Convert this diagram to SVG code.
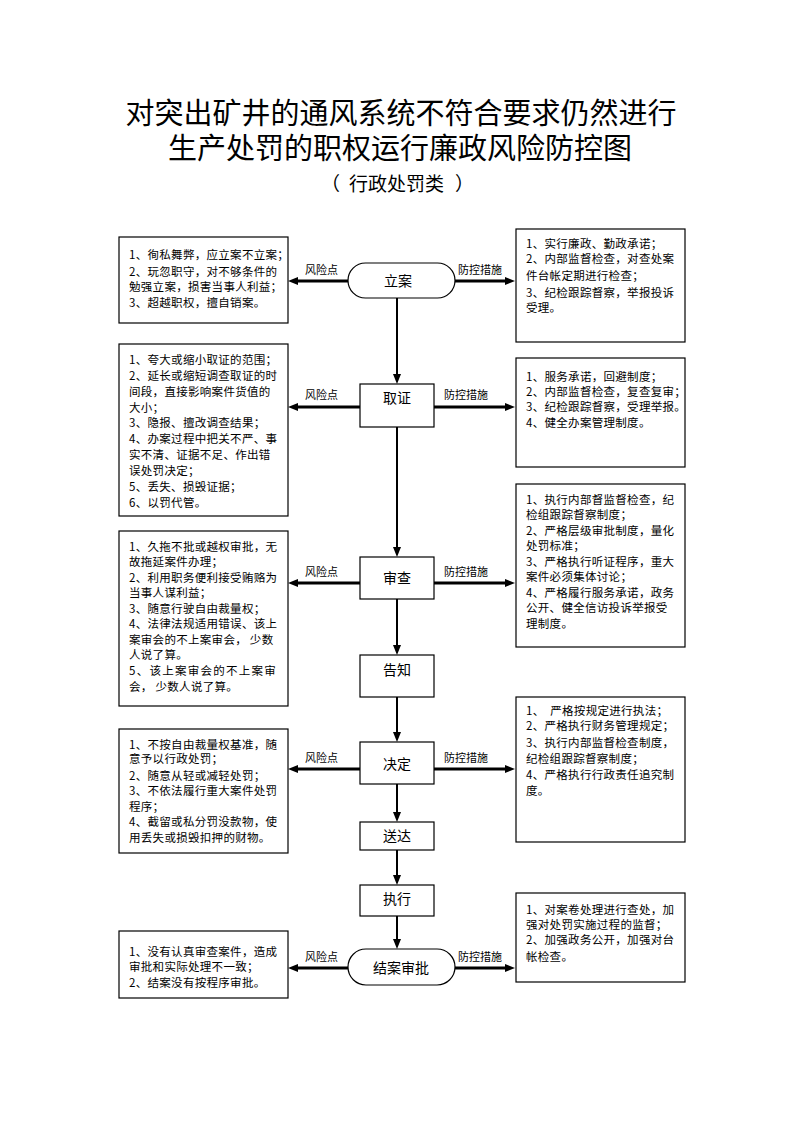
<svg xmlns="http://www.w3.org/2000/svg" width="794" height="1123" viewBox="0 0 794 1123">
<style>
text{font-family:"Noto Sans CJK SC","Noto Sans",sans-serif;fill:#000}
.title{font-size:29px;text-anchor:middle}
.sub{font-size:19px}
.box{fill:#fff;stroke:#000;stroke-width:1.2}
.node{fill:#fff;stroke:#000;stroke-width:1.2}
.nl{font-size:14px;text-anchor:middle}
.lab{font-size:11px}
.t{font-size:11.5px;letter-spacing:0.3px}
.h{stroke:#000;stroke-width:3;fill:none}
.v{stroke:#000;stroke-width:2;fill:none}
</style>
<defs>
<marker id="ah" viewBox="0 0 10 8" refX="0" refY="4" markerWidth="10" markerHeight="8" markerUnits="userSpaceOnUse" orient="auto"><path d="M0,0 L10,4 L0,8 z" fill="#000"/></marker>
</defs>
<rect width="794" height="1123" fill="#fff"/>
<g id="title">
<text class="title" x="401" y="124">对突出矿井的通风系统不符合要求仍然进行</text>
<text class="title" x="400" y="159">生产处罚的职权运行廉政风险防控图</text>
<text class="sub" y="191"><tspan x="321">（</tspan><tspan x="349">行政处罚类</tspan><tspan x="455">）</tspan></text>
</g>
<g id="connectors">
<line class="v" x1="397" y1="298" x2="397" y2="374" marker-end="url(#ah)"/>
<line class="v" x1="397" y1="427" x2="397" y2="547" marker-end="url(#ah)"/>
<line class="v" x1="397" y1="599" x2="397" y2="645" marker-end="url(#ah)"/>
<line class="v" x1="397" y1="697" x2="397" y2="732" marker-end="url(#ah)"/>
<line class="v" x1="397" y1="784" x2="397" y2="812" marker-end="url(#ah)"/>
<line class="v" x1="397" y1="850" x2="397" y2="875" marker-end="url(#ah)"/>
<line class="v" x1="397" y1="916" x2="397" y2="939" marker-end="url(#ah)"/>
<line class="h" x1="348" y1="281" x2="298" y2="281" marker-end="url(#ah)"/>
<line class="h" x1="455" y1="281" x2="505" y2="281" marker-end="url(#ah)"/>
<line class="h" x1="360" y1="407" x2="298" y2="407" marker-end="url(#ah)"/>
<line class="h" x1="434" y1="407" x2="505" y2="407" marker-end="url(#ah)"/>
<line class="h" x1="360" y1="583" x2="298" y2="583" marker-end="url(#ah)"/>
<line class="h" x1="434" y1="583" x2="505" y2="583" marker-end="url(#ah)"/>
<line class="h" x1="360" y1="769" x2="298" y2="769" marker-end="url(#ah)"/>
<line class="h" x1="434" y1="769" x2="505" y2="769" marker-end="url(#ah)"/>
<line class="h" x1="348" y1="968" x2="298" y2="968" marker-end="url(#ah)"/>
<line class="h" x1="455" y1="968" x2="505" y2="968" marker-end="url(#ah)"/>
<text class="lab" x="305" y="274">风险点</text>
<text class="lab" x="458" y="274">防控措施</text>
<text class="lab" x="305" y="399">风险点</text>
<text class="lab" x="444" y="399">防控措施</text>
<text class="lab" x="305" y="576">风险点</text>
<text class="lab" x="444" y="576">防控措施</text>
<text class="lab" x="305" y="762">风险点</text>
<text class="lab" x="444" y="762">防控措施</text>
<text class="lab" x="305" y="961">风险点</text>
<text class="lab" x="458" y="961">防控措施</text>
</g>
<g id="n-lian">
<rect class="node" x="348" y="263" width="107" height="35" rx="17.5"/>
<text class="nl" x="398" y="286">立案</text>
</g>
<g id="n-quzheng">
<rect class="node" x="360" y="384" width="74" height="43"/>
<text class="nl" x="397" y="403">取证</text>
</g>
<g id="n-shencha">
<rect class="node" x="360" y="557" width="74" height="42"/>
<text class="nl" x="397" y="583">审查</text>
</g>
<g id="n-gaozhi">
<rect class="node" x="360" y="655" width="74" height="42"/>
<text class="nl" x="397" y="675">告知</text>
</g>
<g id="n-jueding">
<rect class="node" x="360" y="742" width="74" height="42"/>
<text class="nl" x="397" y="769">决定</text>
</g>
<g id="n-songda">
<rect class="node" x="360" y="822" width="74" height="28"/>
<text class="nl" x="397" y="841">送达</text>
</g>
<g id="n-zhixing">
<rect class="node" x="360" y="885" width="74" height="31"/>
<text class="nl" x="397" y="904">执行</text>
</g>
<g id="n-jiean">
<rect class="node" x="348" y="949" width="107" height="36" rx="18"/>
<text class="nl" x="401" y="973">结案审批</text>
</g>
<g id="risk-1">
<rect class="box" x="119" y="237" width="169" height="86"/>
<text class="t" x="129" y="259">1、徇私舞弊，应立案不立案；</text>
<text class="t" x="129" y="276">2、玩忽职守，对不够条件的</text>
<text class="t" x="129" y="291">勉强立案，损害当事人利益；</text>
<text class="t" x="129" y="307">3、超越职权，擅自销案。</text>
</g>
<g id="ctrl-1">
<rect class="box" x="516" y="229" width="169" height="113"/>
<text class="t" x="526" y="248">1、实行廉政、勤政承诺；</text>
<text class="t" x="526" y="263">2、内部监督检查，对查处案</text>
<text class="t" x="526" y="280">件台帐定期进行检查；</text>
<text class="t" x="526" y="297">3、纪检跟踪督察，举报投诉</text>
<text class="t" x="526" y="312">受理。</text>
</g>
<g id="risk-2">
<rect class="box" x="119" y="344" width="169" height="172"/>
<text class="t" x="129" y="364">1、夸大或缩小取证的范围；</text>
<text class="t" x="129" y="380">2、延长或缩短调查取证的时</text>
<text class="t" x="129" y="396">间段，直接影响案件货值的</text>
<text class="t" x="129" y="412">大小；</text>
<text class="t" x="129" y="427">3、隐报、擅改调查结果；</text>
<text class="t" x="129" y="443">4、办案过程中把关不严、事</text>
<text class="t" x="129" y="459">实不清、证据不足、作出错</text>
<text class="t" x="129" y="475">误处罚决定；</text>
<text class="t" x="129" y="491">5、丢失、损毁证据；</text>
<text class="t" x="129" y="507">6、以罚代管。</text>
</g>
<g id="ctrl-2">
<rect class="box" x="516" y="358" width="169" height="109"/>
<text class="t" x="526" y="381">1、服务承诺，回避制度；</text>
<text class="t" x="526" y="396">2、内部监督检查，复查复审；</text>
<text class="t" x="526" y="411">3、纪检跟踪督察，受理举报。</text>
<text class="t" x="526" y="427">4、健全办案管理制度。</text>
</g>
<g id="risk-3">
<rect class="box" x="119" y="531" width="169" height="175"/>
<text class="t" x="129" y="551">1、久拖不批或越权审批，无</text>
<text class="t" x="129" y="566">故拖延案件办理；</text>
<text class="t" x="129" y="582">2、利用职务便利接受贿赂为</text>
<text class="t" x="129" y="597">当事人谋利益；</text>
<text class="t" x="129" y="613">3、随意行驶自由裁量权；</text>
<text class="t" x="129" y="628">4、法律法规适用错误、该上</text>
<text class="t" x="129" y="644" xml:space="preserve">案审会的不上案审会， 少数</text>
<text class="t" x="129" y="659">人说了算。</text>
<text class="t" x="129" y="675" textLength="147">5、该上案审会的不上案审</text>
<text class="t" x="129" y="691" xml:space="preserve">会， 少数人说了算。</text>
</g>
<g id="ctrl-3">
<rect class="box" x="516" y="484" width="169" height="163"/>
<text class="t" x="526" y="504">1、执行内部督监督检查，纪</text>
<text class="t" x="526" y="519">检组跟踪督察制度；</text>
<text class="t" x="526" y="535">2、严格层级审批制度，量化</text>
<text class="t" x="526" y="550">处罚标准；</text>
<text class="t" x="526" y="566">3、严格执行听证程序，重大</text>
<text class="t" x="526" y="581">案件必须集体讨论；</text>
<text class="t" x="526" y="597">4、严格履行服务承诺，政务</text>
<text class="t" x="526" y="612">公开、健全信访投诉举报受</text>
<text class="t" x="526" y="628">理制度。</text>
</g>
<g id="risk-4">
<rect class="box" x="119" y="729" width="169" height="124"/>
<text class="t" x="129" y="749">1、不按自由裁量权基准，随</text>
<text class="t" x="129" y="763">意予以行政处罚；</text>
<text class="t" x="129" y="780">2、随意从轻或减轻处罚；</text>
<text class="t" x="129" y="795">3、不依法履行重大案件处罚</text>
<text class="t" x="129" y="811">程序；</text>
<text class="t" x="129" y="826">4、截留或私分罚没款物，使</text>
<text class="t" x="129" y="842">用丢失或损毁扣押的财物。</text>
</g>
<g id="ctrl-4">
<rect class="box" x="516" y="697" width="169" height="145"/>
<text class="t" x="526" y="715" xml:space="preserve">1、  严格按规定进行执法；</text>
<text class="t" x="526" y="730">2、严格执行财务管理规定；</text>
<text class="t" x="526" y="747">3、执行内部监督检查制度，</text>
<text class="t" x="526" y="763">纪检组跟踪督察制度；</text>
<text class="t" x="526" y="779">4、严格执行行政责任追究制</text>
<text class="t" x="526" y="795">度。</text>
</g>
<g id="risk-5">
<rect class="box" x="119" y="931" width="169" height="67"/>
<text class="t" x="129" y="956">1、没有认真审查案件，造成</text>
<text class="t" x="129" y="971">审批和实际处理不一致；</text>
<text class="t" x="129" y="987">2、结案没有按程序审批。</text>
</g>
<g id="ctrl-5">
<rect class="box" x="516" y="893" width="169" height="89"/>
<text class="t" x="526" y="914">1、对案卷处理进行查处，加</text>
<text class="t" x="526" y="929">强对处罚实施过程的监督；</text>
<text class="t" x="526" y="944">2、加强政务公开，加强对台</text>
<text class="t" x="526" y="961">帐检查。</text>
</g>
</svg>
